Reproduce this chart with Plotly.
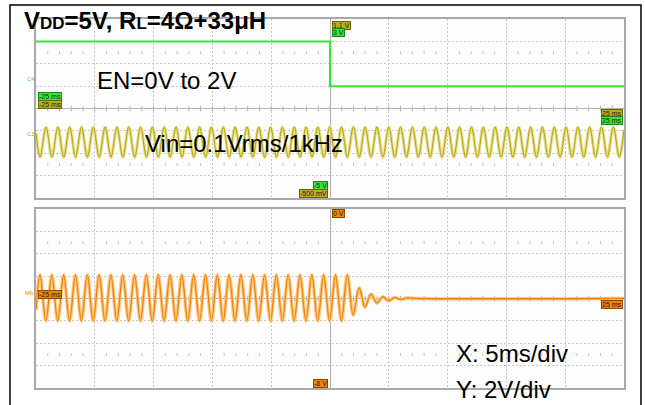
import plotly.graph_objects as go

W, H = 645, 405
OFF = 0   # body margin removed by the post script below

# ---------------- data ----------------
x_range_ms = [-25, 25]            # 5 ms/div, 10 divisions
y_range_div = [-4, 4]             # 8 divisions per panel
signal_period_ms = 1.005          # 1 kHz as drawn on screen

# C4 : EN (green), in divisions of the upper panel
en_time_ms = [-25, 0, 0, 25]
en_level_div = [3.0, 3.0, 1.0, 1.0]

# C1 : Vin (yellow) extrema, first one (a trough) at vin_first_ms
vin_first_ms = -24.65
vin_edge_time_ms = [-25, 25]
vin_edge_div = [-1.10, -0.95]
vin_extrema_div = [
    -2.17, -0.83, -2.17, -0.83, -2.17, -0.83, -2.17, -0.83, -2.17, -0.83,
    -2.17, -0.83, -2.17, -0.83, -2.17, -0.83, -2.17, -0.83, -2.17, -0.83,
    -2.17, -0.83, -2.17, -0.83, -2.17, -0.83, -2.17, -0.83, -2.17, -0.83,
    -2.17, -0.83, -2.17, -0.83, -2.17, -0.83, -2.17, -0.83, -2.17, -0.83,
    -2.17, -0.83, -2.17, -0.83, -2.17, -0.83, -2.17, -0.83, -2.17, -0.83,
    -2.17, -0.83, -2.17, -0.83, -2.17, -0.83, -2.17, -0.83, -2.17, -0.83,
    -2.17, -0.83, -2.17, -0.83, -2.17, -0.83, -2.17, -0.83, -2.17, -0.83,
    -2.17, -0.83, -2.17, -0.83, -2.17, -0.83, -2.17, -0.83, -2.17, -0.83,
    -2.17, -0.83, -2.17, -0.83, -2.17, -0.83, -2.17, -0.83, -2.17, -0.83,
    -2.17, -0.83, -2.17, -0.83, -2.17, -0.83, -2.17, -0.83, -2.17,
]

# Mb : speaker output (orange) extrema, first one (a peak) at mb_first_ms
mb_first_ms = -24.66
mb_start_div = -0.5
mb_extrema_div = [
    1.05, -1.0, 1.05, -1.0, 1.05, -1.0, 1.05, -1.0, 1.05, -1.0,
    1.05, -1.0, 1.05, -1.0, 1.05, -1.0, 1.05, -1.0, 1.05, -1.0,
    1.05, -1.0, 1.05, -1.0, 1.05, -1.0, 1.05, -1.0, 1.05, -1.0,
    1.05, -1.0, 1.05, -1.0, 1.05, -1.0, 1.05, -1.0, 1.05, -1.0,
    1.05, -1.0, 1.05, -1.0, 1.05, -1.0, 1.05, -1.0, 1.05, -1.0,
    1.05, -1.0, 1.05,
    -0.74, 0.47, -0.38, 0.20, -0.20, 0.08, -0.10, 0.04, -0.04, 0.02,
]
mb_tail_time_ms = [7.5, 25]
mb_tail_div = [0.0, 0.0]

trigger_level_div = 2.0

# ---------------- styling ----------------
FONT = "Arial, Liberation Sans, sans-serif"
GREEN = "#36e636"
GREEN_DARK = "#188a18"
YEL = "#b3a600"
YEL_LIGHT = "#e6de90"
YEL_BOX = "#b9ae1c"
ORG = "#f08400"
ORG_LIGHT = "#ffc784"
GRID = "#c6c6c6"
FRAME = "#a8a8a8"
TICK = "#b4b4b4"


def px_x(px):
    return (px - OFF) / W


def px_y(py):
    return 1 - (py - OFF) / H


half = signal_period_ms / 2
vin_t = [vin_edge_time_ms[0]] + [vin_first_ms + i * half for i in range(len(vin_extrema_div))] + [vin_edge_time_ms[1]]
vin_y = [vin_edge_div[0]] + vin_extrema_div + [vin_edge_div[1]]
mb_t = [x_range_ms[0]] + [mb_first_ms + i * half for i in range(len(mb_extrema_div))] + mb_tail_time_ms
mb_y = [mb_start_div] + mb_extrema_div + mb_tail_div

fig = go.Figure()

# minor ticks on centre lines and dotted rows at +-2.5 div
tick_t = [t for t in range(-24, 25)]
for ya in ["y", "y2"]:
    xa = "x" if ya == "y" else "x2"
    fig.add_trace(go.Scatter(x=tick_t, y=[0] * len(tick_t), xaxis=xa, yaxis=ya, mode="markers",
                             marker=dict(symbol="line-ns-open", size=4, color=TICK,
                                         line=dict(color=TICK, width=1)),
                             hoverinfo="skip", showlegend=False))
    dots_t = [t for t in tick_t if t % 5 != 0]
    for lv in (2.5, -2.5):
        fig.add_trace(go.Scatter(x=dots_t, y=[lv] * len(dots_t), xaxis=xa, yaxis=ya, mode="markers",
                                 marker=dict(symbol="line-ns-open", size=2, color="#c4c4c4",
                                             line=dict(color="#c4c4c4", width=1)),
                                 hoverinfo="skip", showlegend=False))

# Vin (yellow)
fig.add_trace(go.Scatter(x=vin_t, y=vin_y, xaxis="x", yaxis="y", mode="lines",
                         line=dict(color=YEL_LIGHT, width=3.2, shape="spline", smoothing=1),
                         hoverinfo="skip", showlegend=False))
fig.add_trace(go.Scatter(x=vin_t, y=vin_y, xaxis="x", yaxis="y", mode="lines",
                         line=dict(color=YEL, width=1.0, shape="spline", smoothing=1),
                         showlegend=False))
# EN (green)
fig.add_trace(go.Scatter(x=en_time_ms, y=en_level_div, xaxis="x", yaxis="y", mode="lines",
                         line=dict(color=GREEN, width=2), showlegend=False))
# Mb (orange)
fig.add_trace(go.Scatter(x=mb_t, y=mb_y, xaxis="x2", yaxis="y2", mode="lines",
                         line=dict(color=ORG_LIGHT, width=3.5, shape="spline", smoothing=1),
                         hoverinfo="skip", showlegend=False))
fig.add_trace(go.Scatter(x=mb_t, y=mb_y, xaxis="x2", yaxis="y2", mode="lines",
                         line=dict(color=ORG, width=1.3, shape="spline", smoothing=1),
                         showlegend=False))

# markers outside the grid: trigger level and trigger position
fig.add_trace(go.Scatter(x=[25.35], y=[trigger_level_div], xaxis="x", yaxis="y", mode="markers",
                         marker=dict(symbol="triangle-left", size=7, color=GREEN),
                         cliponaxis=False, showlegend=False))
fig.add_trace(go.Scatter(x=[0], y=[-4.2], xaxis="x", yaxis="y", mode="markers",
                         marker=dict(symbol="triangle-up", size=7, color=GREEN),
                         cliponaxis=False, showlegend=False))
fig.add_trace(go.Scatter(x=[0], y=[-4.2], xaxis="x2", yaxis="y2", mode="markers",
                         marker=dict(symbol="triangle-up", size=7, color=ORG),
                         cliponaxis=False, showlegend=False))
# channel reference markers at the left edge
for xa, ya, lv, col in [("x", "y", 1.0, GREEN), ("x", "y", -1.5, YEL), ("x2", "y2", 0.0, ORG)]:
    fig.add_trace(go.Scatter(x=[-25.8, -25.0], y=[lv, lv], xaxis=xa, yaxis=ya, mode="lines",
                             line=dict(color=col, width=1.5), cliponaxis=False, showlegend=False))

axis_common = dict(showgrid=True, gridcolor=GRID, griddash="2px,2px", gridwidth=1,
                   zeroline=True, zerolinecolor="#b2b2b2", zerolinewidth=1,
                   showline=True, linecolor=FRAME, linewidth=1.5, mirror=True,
                   showticklabels=False, ticks="", fixedrange=True)
xdom = [px_x(36), px_x(624)]
fig.update_layout(
    width=W, height=H, margin=dict(l=0, r=0, t=0, b=0),
    paper_bgcolor="white", plot_bgcolor="#fdfdfd",
    xaxis=dict(domain=xdom, range=x_range_ms, dtick=5, anchor="y", **axis_common),
    yaxis=dict(domain=[px_y(198), px_y(19)], range=y_range_div, dtick=1, anchor="x", **axis_common),
    xaxis2=dict(domain=xdom, range=x_range_ms, dtick=5, anchor="y2", matches="x", **axis_common),
    yaxis2=dict(domain=[px_y(388), px_y(209)], range=y_range_div, dtick=1, anchor="x2", **axis_common),
    showlegend=False,
)

# outer black frame
fig.add_shape(type="rect", xref="paper", yref="paper", x0=px_x(10), x1=px_x(641), y0=-0.05, y1=px_y(5),
              line=dict(color="black", width=1.5), fillcolor="rgba(0,0,0,0)")


def txt(text, px, py, size, anchor="left", color="black"):
    fig.add_annotation(text=text, xref="paper", yref="paper", x=px_x(px), y=px_y(py),
                       xanchor=anchor, yanchor="middle", showarrow=False,
                       font=dict(family=FONT, size=size, color=color))


def tag(text, px, py, bg, border, anchor="left"):
    fig.add_annotation(text=text, xref="paper", yref="paper", x=px_x(px), y=px_y(py),
                       xanchor=anchor, yanchor="middle", showarrow=False,
                       font=dict(family=FONT, size=7, color="#202020"),
                       bgcolor=bg, bordercolor=border, borderwidth=1, borderpad=0)


txt("<b>V<span style='font-size:17px'>DD</span>=5V, R<span style='font-size:17px'>L</span>=4Ω+33μH</b>", 22, 21, 24)
txt("EN=0V to 2V", 95, 81, 24)
txt("Vin=0.1Vrms/1kHz", 143, 143, 24)
txt("X: 5ms/div", 454, 353, 24)
txt("Y: 2V/div", 454, 389, 24)

# channel names
txt("C4", 31, 79, 6, anchor="center", color=GREEN)
txt("C1", 31, 134, 6, anchor="center", color=YEL)
txt("Mb", 29, 293, 6, anchor="center", color=ORG)

# scope readout tags
tag("1.1 V", 332, 25, YEL_BOX, "#6b6300")
tag("3 V", 332, 32, GREEN, GREEN_DARK)
tag("-25 ms", 38, 96, GREEN, GREEN_DARK)
tag("-25 ms", 38, 104, YEL_BOX, "#6b6300")
tag("25 ms", 623, 114, YEL_BOX, "#6b6300", anchor="right")
tag("25 ms", 623, 121, GREEN, GREEN_DARK, anchor="right")
tag("-5 V", 328, 185, GREEN, GREEN_DARK, anchor="right")
tag("-500 mV", 328, 193, YEL_BOX, "#6b6300", anchor="right")
tag("0 V", 332, 214, ORG, "#8a4a00")
tag("-25 ms", 38, 294, ORG, "#8a4a00")
tag("25 ms", 623, 304, ORG, "#8a4a00", anchor="right")
tag("-8 V", 328, 383, ORG, "#8a4a00", anchor="right")

fig.write_html("out.html", config={"displayModeBar": False},
               post_script="document.body.style.margin='0';document.body.style.overflow='hidden';")
